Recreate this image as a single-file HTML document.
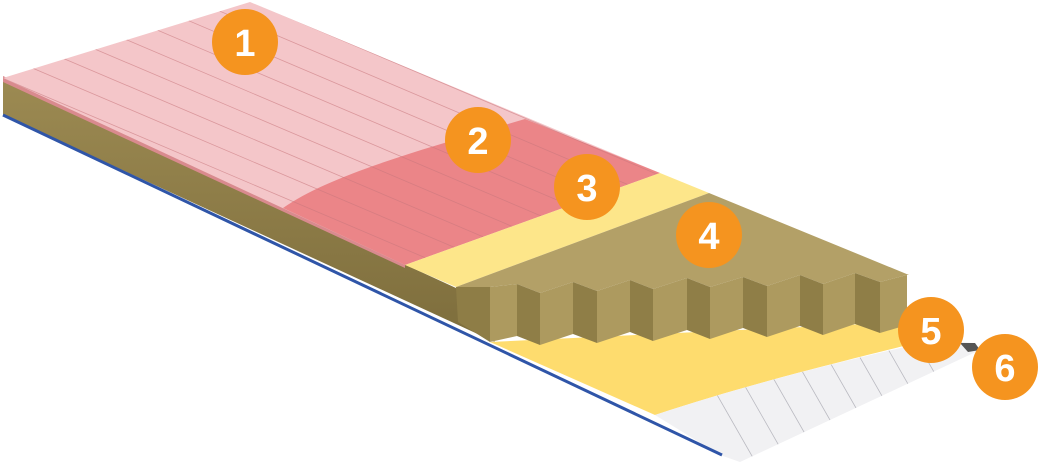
<!DOCTYPE html>
<html><head><meta charset="utf-8"><style>
html,body{margin:0;padding:0;background:#fff;width:1042px;height:469px;overflow:hidden}
svg{display:block}
.n{font-family:"Liberation Sans",Arial,sans-serif;font-weight:bold;font-size:38px;fill:#fff;text-anchor:middle}
</style></head><body>
<svg width="1042" height="469" viewBox="0 0 1042 469" xmlns="http://www.w3.org/2000/svg">
<defs>
<clipPath id="top"><polygon points="3,78 250,2 660,173 405,265"/></clipPath>
<clipPath id="steel"><path d="M655,415 C760,380 870,355 935,340 L975,343 L980,350 L740,462 L720,455 Z"/></clipPath>
<linearGradient id="wf" x1="0" y1="0" x2="0" y2="1"><stop offset="0" stop-color="#9c8a52"/><stop offset="1" stop-color="#7d6d3c"/></linearGradient>
</defs>
<polygon points="3,80 456,288 495,342 3,115" fill="url(#wf)"/>
<polygon points="3,76 3,82 405,268 405,262" fill="#d98a8e"/>
<polygon points="3,78 250,2 660,173 405,265" fill="#f4c6c9"/>
<path d="M283,208 C330,175 420,150 525,119 L660,173 L405,265 Z" fill="#eb8588"/>
<g clip-path="url(#top)" stroke="#c9787e" stroke-width="0.8" opacity="0.6">
<line x1="-100" y1="80" x2="700" y2="420"/><line x1="-70" y1="70" x2="730" y2="410"/>
<line x1="-40" y1="60" x2="760" y2="400"/><line x1="-10" y1="50" x2="790" y2="390"/>
<line x1="20" y1="40" x2="820" y2="380"/><line x1="50" y1="30" x2="850" y2="370"/>
<line x1="80" y1="20" x2="880" y2="360"/><line x1="110" y1="10" x2="910" y2="350"/>
<line x1="140" y1="0" x2="940" y2="340"/><line x1="170" y1="-10" x2="970" y2="330"/>
<line x1="200" y1="-20" x2="1000" y2="320"/><line x1="230" y1="-30" x2="1030" y2="310"/>
<line x1="-130" y1="90" x2="670" y2="430"/><line x1="-160" y1="100" x2="640" y2="440"/>
</g>
<polygon points="405,265 660,173 709,193 456,287" fill="#fde68a"/>
<path d="M490,342 L907,322 L935,338 C870,355 760,380 655,415 Z" fill="#fedc6e"/>
<path d="M655,415 C760,380 870,355 935,340 L975,343 L980,350 L740,462 L720,455 Z" fill="#f1f1f3"/>
<g clip-path="url(#steel)" stroke="#b9b9c0" stroke-width="0.8">
<line x1="680" y1="330" x2="760" y2="470"/><line x1="710" y1="325" x2="790" y2="465"/>
<line x1="740" y1="320" x2="820" y2="460"/><line x1="770" y1="315" x2="850" y2="455"/>
<line x1="800" y1="310" x2="880" y2="450"/><line x1="830" y1="305" x2="910" y2="445"/>
<line x1="860" y1="300" x2="940" y2="440"/><line x1="890" y1="295" x2="970" y2="435"/>
</g>
<polygon points="960,343 975,343 980,350 968,352" fill="#555"/>
<line x1="3" y1="115" x2="722" y2="455" stroke="#2f55a8" stroke-width="3"/>
<path d="M456,287 L709,193 L909,275 L907,275 L880,282 L855,273 L823,284 L800,275 L767,286 L743,277 L710,287 L687,278 L653,289 L630,280 L597,291 L573,282 L540,293 L517,284 L490,287 Z" fill="#b3a067"/>
<polygon points="456,287 490,287 490,342 458,322" fill="#8e7d46"/>
<g fill="#ad9a5f">
<polygon points="490,287 517,284 517,336 490,342"/>
<polygon points="540,293 573,282 573,334 540,345"/>
<polygon points="597,291 630,280 630,332 597,343"/>
<polygon points="653,289 687,278 687,330 653,341"/>
<polygon points="710,287 743,277 743,328 710,339"/>
<polygon points="767,286 800,275 800,326 767,337"/>
<polygon points="823,284 855,273 855,324 823,335"/>
<polygon points="880,282 907,275 907,325 880,333"/>
</g>
<g fill="#8f7e47">
<polygon points="517,284 540,293 540,345 517,336"/>
<polygon points="573,282 597,291 597,343 573,334"/>
<polygon points="630,280 653,289 653,341 630,332"/>
<polygon points="687,278 710,287 710,339 687,330"/>
<polygon points="743,277 767,286 767,337 743,328"/>
<polygon points="800,275 823,284 823,335 800,326"/>
<polygon points="855,273 880,282 880,333 855,324"/>
</g>
<g fill="#f5941f">
<circle cx="245" cy="42" r="33"/><circle cx="478" cy="140" r="33"/>
<circle cx="587" cy="187" r="33"/><circle cx="709" cy="235" r="33"/>
<circle cx="931" cy="330" r="33"/><circle cx="1005" cy="367" r="33"/>
</g>
<text class="n" x="245" y="56">1</text><text class="n" x="478" y="154">2</text>
<text class="n" x="587" y="201">3</text><text class="n" x="709" y="249">4</text>
<text class="n" x="931" y="344">5</text><text class="n" x="1005" y="381">6</text>
</svg>
</body></html>
